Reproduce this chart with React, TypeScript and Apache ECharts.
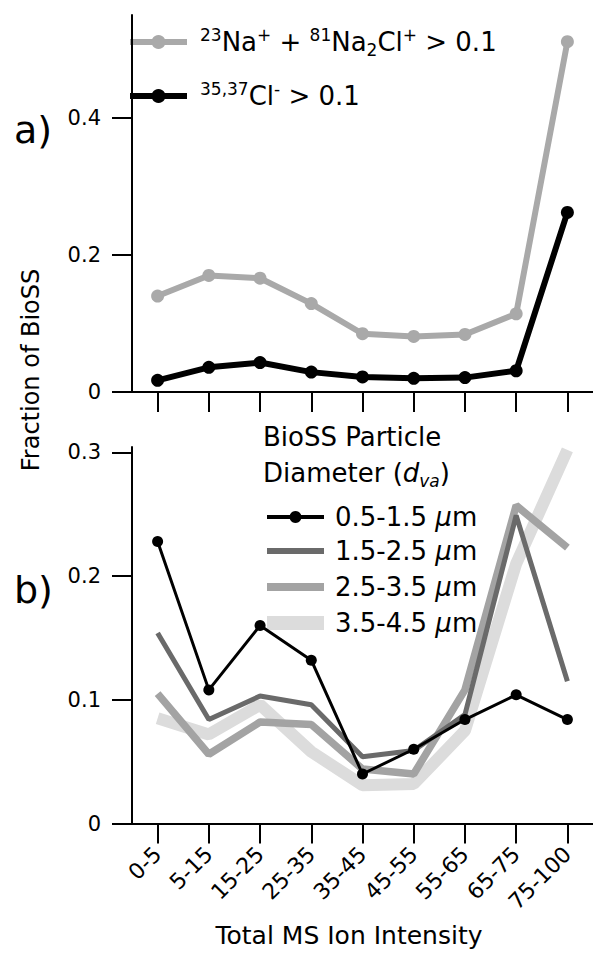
import React, { useEffect, useRef } from "react";
import * as echarts from "echarts";

const categories = ["0-5", "5-15", "15-25", "25-35", "35-45", "45-55", "55-65", "65-75", "75-100"];

// Panel a)
const naNa2ClFrac = [0.140, 0.170, 0.166, 0.129, 0.085, 0.081, 0.084, 0.114, 0.511];
const clFrac = [0.017, 0.036, 0.043, 0.029, 0.022, 0.020, 0.021, 0.031, 0.262];

// Panel b)
const d05_15 = [0.228, 0.108, 0.160, 0.132, 0.040, 0.060, 0.084, 0.104, 0.084];
const d15_25 = [0.154, 0.084, 0.103, 0.096, 0.054, 0.059, 0.088, 0.249, 0.115];
const d25_35 = [0.105, 0.056, 0.082, 0.080, 0.044, 0.040, 0.108, 0.257, 0.223];
const d35_45 = [0.085, 0.072, 0.096, 0.058, 0.031, 0.032, 0.075, 0.210, 0.302];

const topTicks = [0, 0.2, 0.4];
const bottomTicks = [0, 0.1, 0.2, 0.3];

const FONT = "DejaVu Sans";

export default function App() {
  const ref = useRef<HTMLDivElement>(null);

  useEffect(() => {
    if (!ref.current) return;
    const chart = echarts.init(ref.current, undefined, { renderer: "svg" });

    const axisLine = { show: true, lineStyle: { color: "#000", width: 2 } };
    const tick = { show: true, length: 20, lineStyle: { color: "#000", width: 2 } };

    const xBase = (gridIndex: number, showLabel: boolean) => ({
      type: "category",
      gridIndex,
      data: categories,
      boundaryGap: true,
      axisLine,
      axisTick: { ...tick, alignWithLabel: true, interval: 0 },
      axisLabel: showLabel
        ? { show: true, interval: 0, rotate: 45, margin: 27, fontSize: 22, fontFamily: FONT, color: "#000" }
        : { show: false },
      splitLine: { show: false },
    });

    const yBase = (gridIndex: number, max: number, ticks: number[]) => ({
      type: "value",
      gridIndex,
      min: 0,
      max,
      axisLine,
      axisTick: { ...tick, customValues: ticks },
      axisLabel: { customValues: ticks, margin: 31, fontSize: 21, fontFamily: FONT, color: "#000" },
      splitLine: { show: false },
    });

    const main = { fontSize: 26, fontFamily: FONT, color: "#000", lineHeight: 32 };
    const sup = { fontSize: 17, fontFamily: FONT, color: "#000", lineHeight: 10, verticalAlign: "top" };
    const sub = { fontSize: 17, fontFamily: FONT, color: "#000", lineHeight: 8, verticalAlign: "bottom" };
    const ital = { ...main, fontStyle: "italic" };
    const italSub = { ...sub, fontStyle: "italic" };

    const rich = { n: main, sup, sub, i: ital, isub: italSub };

    const legendRow = (y: number, color: string, width: number, marker: boolean, text: string, x1: number, x2: number, tx: number, r: number) => {
      const els: any[] = [
        { type: "line", shape: { x1, y1: y, x2, y2: y }, style: { stroke: color, lineWidth: width } },
      ];
      if (marker) els.push({ type: "circle", shape: { cx: (x1 + x2) / 2, cy: y, r }, style: { fill: color } });
      els.push({
        type: "text",
        x: tx,
        y,
        style: { text, rich, textAlign: "left", textVerticalAlign: "middle", verticalAlign: "middle" },
      });
      return els;
    };

    const COL_TOP_GRAY = "#a9a9a9";
    const COL_DARK = "#6a6a6a";
    const COL_MED = "#a3a3a3";
    const COL_LIGHT = "#dcdcdc";

    const option: any = {
      animation: false,
      grid: [
        { left: 132, top: 15, width: 461, height: 377 },
        { left: 132, top: 447, width: 461, height: 376.5 },
      ],
      xAxis: [xBase(0, false), xBase(1, true)],
      yAxis: [yBase(0, 0.55, topTicks), yBase(1, 0.3043, bottomTicks)],
      series: [
        {
          type: "line", xAxisIndex: 0, yAxisIndex: 0, data: naNa2ClFrac, clip: false,
          symbol: "circle", symbolSize: 13, lineStyle: { color: COL_TOP_GRAY, width: 6 },
          itemStyle: { color: COL_TOP_GRAY },
        },
        {
          type: "line", xAxisIndex: 0, yAxisIndex: 0, data: clFrac, clip: false,
          symbol: "circle", symbolSize: 13, lineStyle: { color: "#000", width: 6 },
          itemStyle: { color: "#000" },
        },
        {
          type: "line", xAxisIndex: 1, yAxisIndex: 1, data: d35_45, clip: false,
          showSymbol: false, symbol: "none", lineStyle: { color: COL_LIGHT, width: 12 },
        },
        {
          type: "line", xAxisIndex: 1, yAxisIndex: 1, data: d25_35, clip: false,
          showSymbol: false, symbol: "none", lineStyle: { color: COL_MED, width: 7.5 },
        },
        {
          type: "line", xAxisIndex: 1, yAxisIndex: 1, data: d15_25, clip: false,
          showSymbol: false, symbol: "none", lineStyle: { color: COL_DARK, width: 5 },
        },
        {
          type: "line", xAxisIndex: 1, yAxisIndex: 1, data: d05_15, clip: false,
          symbol: "circle", symbolSize: 11, lineStyle: { color: "#000", width: 3 },
          itemStyle: { color: "#000" },
        },
      ],
      graphic: [
        {
          type: "text", x: 31, y: 370, rotation: Math.PI / 2,
          style: { text: "Fraction of BioSS", fontSize: 24, fontFamily: FONT, fill: "#000", textAlign: "center", textVerticalAlign: "middle", verticalAlign: "middle" },
        },
        {
          type: "text", x: 14, y: 130,
          style: { text: "a)", fontSize: 38, fontFamily: FONT, fill: "#000", textAlign: "left", textVerticalAlign: "middle", verticalAlign: "middle" },
        },
        {
          type: "text", x: 14, y: 590,
          style: { text: "b)", fontSize: 38, fontFamily: FONT, fill: "#000", textAlign: "left", textVerticalAlign: "middle", verticalAlign: "middle" },
        },
        {
          type: "text", x: 349, y: 935,
          style: { text: "Total MS Ion Intensity", fontSize: 25, fontFamily: FONT, fill: "#000", textAlign: "center", textVerticalAlign: "middle", verticalAlign: "middle" },
        },
        ...legendRow(42, COL_TOP_GRAY, 6, true, "{sup|23}{n|Na}{sup|+}{n| + }{sup|81}{n|Na}{sub|2}{n|Cl}{sup|+}{n| > 0.1}", 130, 187, 200, 7),
        ...legendRow(96, "#000", 6, true, "{sup|35,37}{n|Cl}{sup|-}{n| > 0.1}", 130, 187, 200, 7),
        {
          type: "text", x: 263, y: 437,
          style: { text: "{n|BioSS Particle}", rich, textAlign: "left", textVerticalAlign: "middle", verticalAlign: "middle" },
        },
        {
          type: "text", x: 263, y: 473,
          style: { text: "{n|Diameter (}{i|d}{isub|va}{n|)}", rich, textAlign: "left", textVerticalAlign: "middle", verticalAlign: "middle" },
        },
        ...legendRow(517, "#000", 4, true, "{n|0.5-1.5 }{i|μ}{n|m}", 267, 324, 335, 6),
        ...legendRow(551, COL_DARK, 6, false, "{n|1.5-2.5 }{i|μ}{n|m}", 267, 324, 335, 6),
        ...legendRow(587, COL_MED, 8, false, "{n|2.5-3.5 }{i|μ}{n|m}", 267, 324, 335, 6),
        ...legendRow(623, COL_LIGHT, 14, false, "{n|3.5-4.5 }{i|μ}{n|m}", 267, 324, 335, 6),
      ],
    };

    chart.setOption(option);
    return () => chart.dispose();
  }, []);

  return <div ref={ref} style={{ position: "absolute", left: 0, top: 0, width: 593, height: 953 }} />;
}
